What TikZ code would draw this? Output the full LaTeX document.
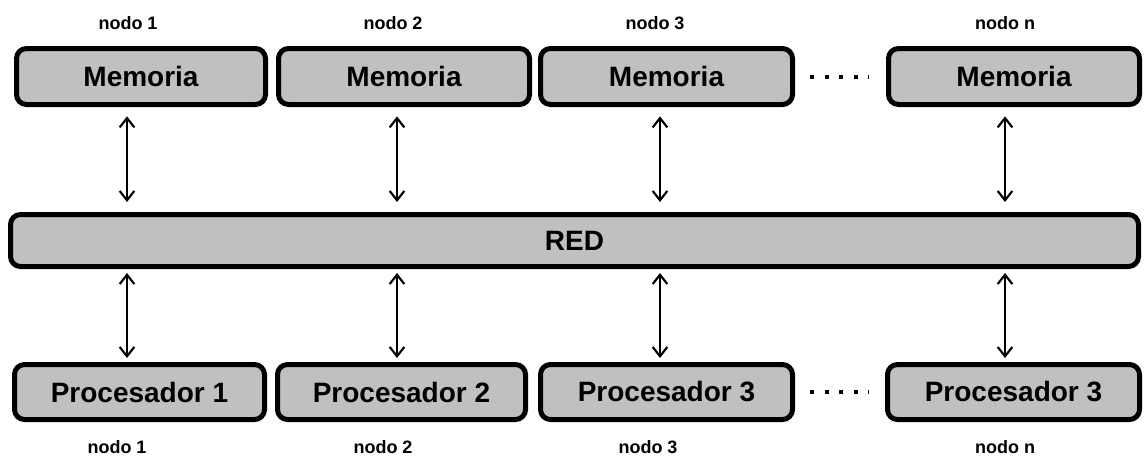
\documentclass[tikz,border=0pt]{standalone}
\usepackage{fontspec}
\setmainfont{Liberation Sans}
\usetikzlibrary{arrows.meta}
\definecolor{boxgray}{HTML}{C0C0C0}
\tikzset{
  unitbox/.style={draw=black, fill=boxgray, line width=3.75pt, rounded corners=7.5pt,
    inner sep=0pt, font=\fontsize{21}{24}\selectfont\bfseries},
  memhead/.style={unitbox, minimum height=42pt},
  prochead/.style={unitbox, minimum height=41.25pt},
  nodelabel/.style={inner sep=0pt, anchor=base, font=\fontsize{13.5}{15}\selectfont\bfseries},
  link/.style={line width=1.7pt, {Straight Barb[length=7pt,width=11pt,line width=1.6pt]}-{Straight Barb[length=7pt,width=11pt,line width=1.6pt]}},
  ellipsis/.style={line width=3pt, dash pattern=on 3pt off 7.875pt}
}
\begin{document}
\begin{tikzpicture}[x=0.75pt, y=-0.75pt]
\useasboundingbox (0,0) rectangle (1144,457);

% memory modules
\node[memhead, minimum width=186.75pt] (m1) at (141,76.5)  {Memoria};
\node[memhead, minimum width=188.25pt] (m2) at (404,76.5)  {Memoria};
\node[memhead, minimum width=189pt]    (m3) at (666.5,76.5){Memoria};
\node[memhead, minimum width=188.25pt] (mn) at (1014,76.5) {Memoria};

% interconnection network
\node[unitbox, minimum width=846pt, minimum height=39pt] (red) at (574.5,240.5) {RED};

% processors
\node[prochead, minimum width=187.5pt] (p1) at (139.5,392)  {Procesador 1};
\node[prochead, minimum width=186pt]   (p2) at (401.5,392)  {Procesador 2};
\node[prochead, minimum width=189pt]   (p3) at (666.5,392)  {Procesador 3};
\node[prochead, minimum width=189pt]   (pn) at (1013.5,392) {Procesador 3};

% node captions
\node[nodelabel] (t1) at (128,29)  {nodo 1};
\node[nodelabel] (t2) at (393,29)  {nodo 2};
\node[nodelabel] (t3) at (655,29)  {nodo 3};
\node[nodelabel] (tn) at (1005,29) {nodo n};
\node[nodelabel] (b1) at (117,453) {nodo 1};
\node[nodelabel] (b2) at (383,453) {nodo 2};
\node[nodelabel] (b3) at (648,453) {nodo 3};
\node[nodelabel] (bn) at (1005,453){nodo n};

% columns of the links
\coordinate (c1) at (127,0);
\coordinate (c2) at (397,0);
\coordinate (c3) at (660,0);
\coordinate (cn) at (1005,0);

% memory <-> network
\foreach \m/\c in {m1/c1, m2/c2, m3/c3, mn/cn}
  \draw[link, shorten <=7pt, shorten >=7.5pt] (\m.south -| \c) -- (red.north -| \c);

% network <-> processor
\foreach \p/\c in {p1/c1, p2/c2, p3/c3, pn/cn}
  \draw[link, shorten <=3pt, shorten >=3pt] (red.south -| \c) -- (\p.north -| \c);

% ellipses between the third and the last node
\draw[ellipsis, shorten <=11.6pt, shorten >=12.6pt] (m3.east) -- (mn.west);
\draw[ellipsis, shorten <=11.6pt, shorten >=12.2pt] (p3.east) -- (pn.west);
\end{tikzpicture}
\end{document}
